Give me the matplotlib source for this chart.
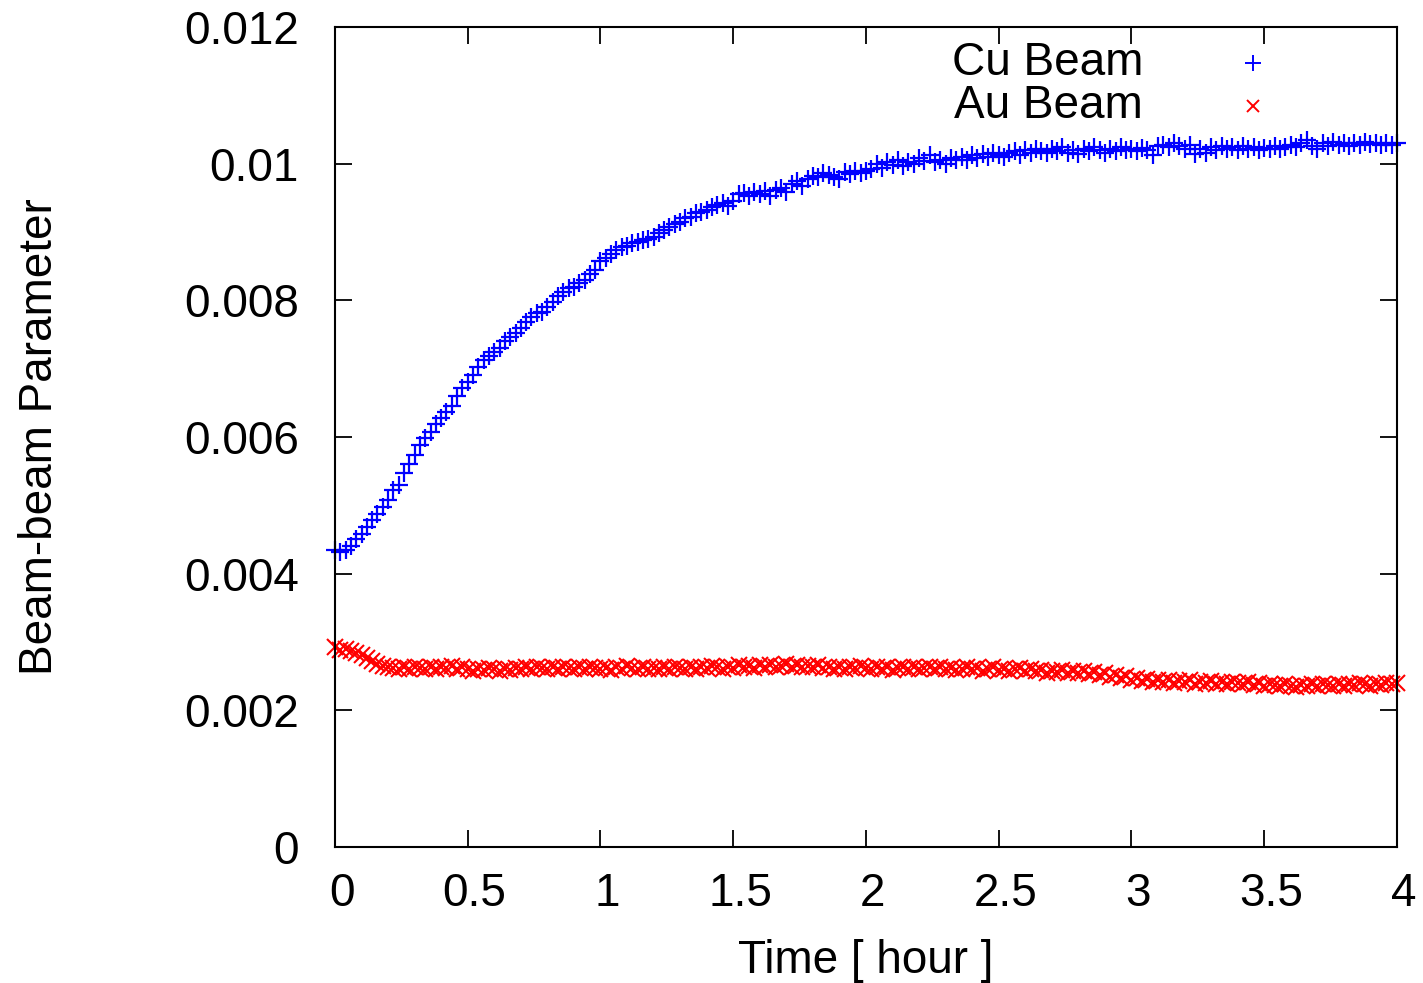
import matplotlib.pyplot as plt
from matplotlib.transforms import ScaledTranslation

plt.rcParams['font.family'] = ['Liberation Sans', 'DejaVu Sans']
font_size = 33

# data (one point every 0.02 hour)
time_hours = [
    0.00, 0.02, 0.04, 0.06, 0.08, 0.10, 0.12, 0.14, 0.16, 0.18,
    0.20, 0.22, 0.24, 0.26, 0.28, 0.30, 0.32, 0.34, 0.36, 0.38,
    0.40, 0.42, 0.44, 0.46, 0.48, 0.50, 0.52, 0.54, 0.56, 0.58,
    0.60, 0.62, 0.64, 0.66, 0.68, 0.70, 0.72, 0.74, 0.76, 0.78,
    0.80, 0.82, 0.84, 0.86, 0.88, 0.90, 0.92, 0.94, 0.96, 0.98,
    1.00, 1.02, 1.04, 1.06, 1.08, 1.10, 1.12, 1.14, 1.16, 1.18,
    1.20, 1.22, 1.24, 1.26, 1.28, 1.30, 1.32, 1.34, 1.36, 1.38,
    1.40, 1.42, 1.44, 1.46, 1.48, 1.50, 1.52, 1.54, 1.56, 1.58,
    1.60, 1.62, 1.64, 1.66, 1.68, 1.70, 1.72, 1.74, 1.76, 1.78,
    1.80, 1.82, 1.84, 1.86, 1.88, 1.90, 1.92, 1.94, 1.96, 1.98,
    2.00, 2.02, 2.04, 2.06, 2.08, 2.10, 2.12, 2.14, 2.16, 2.18,
    2.20, 2.22, 2.24, 2.26, 2.28, 2.30, 2.32, 2.34, 2.36, 2.38,
    2.40, 2.42, 2.44, 2.46, 2.48, 2.50, 2.52, 2.54, 2.56, 2.58,
    2.60, 2.62, 2.64, 2.66, 2.68, 2.70, 2.72, 2.74, 2.76, 2.78,
    2.80, 2.82, 2.84, 2.86, 2.88, 2.90, 2.92, 2.94, 2.96, 2.98,
    3.00, 3.02, 3.04, 3.06, 3.08, 3.10, 3.12, 3.14, 3.16, 3.18,
    3.20, 3.22, 3.24, 3.26, 3.28, 3.30, 3.32, 3.34, 3.36, 3.38,
    3.40, 3.42, 3.44, 3.46, 3.48, 3.50, 3.52, 3.54, 3.56, 3.58,
    3.60, 3.62, 3.64, 3.66, 3.68, 3.70, 3.72, 3.74, 3.76, 3.78,
    3.80, 3.82, 3.84, 3.86, 3.88, 3.90, 3.92, 3.94, 3.96, 3.98,
    4.00,
]

cu_beam = [
    0.00435, 0.00432, 0.00434, 0.00441, 0.00450, 0.00458, 0.00468, 0.00479, 0.00488, 0.00497,
    0.00508, 0.00522, 0.00530, 0.00547, 0.00560, 0.00573, 0.00588, 0.00598, 0.00608, 0.00619,
    0.00628, 0.00637, 0.00645, 0.00660, 0.00672, 0.00680, 0.00691, 0.00702, 0.00712, 0.00718,
    0.00724, 0.00730, 0.00740, 0.00747, 0.00752, 0.00760, 0.00768, 0.00776, 0.00781, 0.00783,
    0.00790, 0.00798, 0.00806, 0.00812, 0.00818, 0.00820, 0.00826, 0.00830, 0.00838, 0.00845,
    0.00857, 0.00862, 0.00868, 0.00874, 0.00878, 0.00880, 0.00884, 0.00886, 0.00888, 0.00890,
    0.00893, 0.00898, 0.00903, 0.00907, 0.00912, 0.00915, 0.00920, 0.00922, 0.00928, 0.00930,
    0.00932, 0.00936, 0.00940, 0.00942, 0.00938, 0.00946, 0.00955, 0.00957, 0.00953, 0.00958,
    0.00956, 0.00960, 0.00952, 0.00962, 0.00965, 0.00958, 0.00970, 0.00974, 0.00968, 0.00978,
    0.00982, 0.00980, 0.00986, 0.00984, 0.00980, 0.00978, 0.00988, 0.00985, 0.00990, 0.00986,
    0.00990, 0.00992, 0.01000, 0.00994, 0.01002, 0.00998, 0.01005, 0.00996, 0.01003, 0.01000,
    0.01008, 0.01004, 0.01012, 0.01002, 0.01006, 0.01000, 0.01008, 0.01005, 0.01010, 0.01006,
    0.01012, 0.01008, 0.01014, 0.01010, 0.01016, 0.01012, 0.01010, 0.01016, 0.01018, 0.01012,
    0.01020, 0.01016, 0.01022, 0.01018, 0.01015, 0.01022, 0.01018, 0.01024, 0.01016, 0.01020,
    0.01014, 0.01022, 0.01018, 0.01024, 0.01020, 0.01016, 0.01022, 0.01018, 0.01024, 0.01020,
    0.01022, 0.01018, 0.01023, 0.01020, 0.01012, 0.01026, 0.01028, 0.01024, 0.01030, 0.01026,
    0.01022, 0.01028, 0.01014, 0.01022, 0.01016, 0.01024, 0.01020, 0.01026, 0.01022, 0.01024,
    0.01020, 0.01026, 0.01022, 0.01024, 0.01020, 0.01023, 0.01021, 0.01026, 0.01022, 0.01025,
    0.01028, 0.01024, 0.01030, 0.01034, 0.01026, 0.01022, 0.01030, 0.01026, 0.01032, 0.01028,
    0.01030, 0.01026, 0.01031, 0.01028, 0.01032, 0.01029, 0.01031, 0.01027, 0.01030, 0.01028,
    0.01030,
]

au_beam = [
    0.00293, 0.00288, 0.00290, 0.00287, 0.00284, 0.00281, 0.00276, 0.00272, 0.00268, 0.00265,
    0.00263, 0.00262, 0.00260, 0.00263, 0.00261, 0.00264, 0.00262, 0.00260, 0.00263, 0.00261,
    0.00264, 0.00262, 0.00265, 0.00261, 0.00263, 0.00260, 0.00258, 0.00261, 0.00259, 0.00262,
    0.00260, 0.00258, 0.00261, 0.00259, 0.00262, 0.00260, 0.00263, 0.00261, 0.00264, 0.00262,
    0.00260, 0.00263, 0.00261, 0.00264, 0.00262, 0.00260, 0.00263, 0.00261, 0.00264, 0.00262,
    0.00260, 0.00262, 0.00259, 0.00263, 0.00261, 0.00265, 0.00262, 0.00260, 0.00263, 0.00261,
    0.00262, 0.00260, 0.00263, 0.00261, 0.00264, 0.00262, 0.00260, 0.00263, 0.00261, 0.00264,
    0.00262, 0.00265, 0.00263, 0.00261, 0.00264, 0.00262, 0.00266, 0.00263, 0.00265, 0.00262,
    0.00266, 0.00264, 0.00267, 0.00263, 0.00265, 0.00268, 0.00264, 0.00266, 0.00263, 0.00265,
    0.00263, 0.00266, 0.00262, 0.00264, 0.00261, 0.00263, 0.00260, 0.00264, 0.00262, 0.00265,
    0.00262, 0.00260, 0.00264, 0.00261, 0.00263, 0.00259, 0.00262, 0.00264, 0.00261, 0.00263,
    0.00260, 0.00262, 0.00264, 0.00261, 0.00263, 0.00260, 0.00262, 0.00259, 0.00261, 0.00263,
    0.00260, 0.00262, 0.00258, 0.00261, 0.00263, 0.00259, 0.00261, 0.00258, 0.00260, 0.00262,
    0.00258, 0.00260, 0.00257, 0.00259, 0.00255, 0.00258, 0.00256, 0.00259, 0.00254, 0.00257,
    0.00255, 0.00258, 0.00253, 0.00256, 0.00251, 0.00254, 0.00249, 0.00252, 0.00247, 0.00250,
    0.00245, 0.00248, 0.00243, 0.00246, 0.00242, 0.00245, 0.00241, 0.00244, 0.00240, 0.00243,
    0.00241, 0.00244, 0.00239, 0.00242, 0.00240, 0.00243, 0.00238, 0.00241, 0.00239, 0.00242,
    0.00240, 0.00238, 0.00241, 0.00237, 0.00240, 0.00236, 0.00239, 0.00237, 0.00235, 0.00238,
    0.00236, 0.00234, 0.00237, 0.00235, 0.00238, 0.00236, 0.00239, 0.00237, 0.00235, 0.00238,
    0.00236, 0.00239, 0.00237, 0.00240, 0.00238, 0.00236, 0.00239, 0.00237, 0.00240, 0.00238,
    0.00240,
]

x_ticks = [0, 0.5, 1, 1.5, 2, 2.5, 3, 3.5, 4]
x_tick_labels = ["0", "0.5", "1", "1.5", "2", "2.5", "3", "3.5", "4"]
y_ticks = [0, 0.002, 0.004, 0.006, 0.008, 0.010, 0.012]
y_tick_labels = ["0", "0.002", "0.004", "0.006", "0.008", "0.01", "0.012"]

blue = "#0000ff"
red = "#ff0000"

fig = plt.figure(figsize=(14.23, 9.83), dpi=100)
ax = fig.add_axes([0.2354, 0.1384, 0.7463, 0.8341])

ax.plot(time_hours, cu_beam, linestyle="none", marker="+", markersize=13,
        markeredgewidth=1.6, color=blue, clip_on=False)
ax.plot(time_hours, au_beam, linestyle="none", marker="x", markersize=11,
        markeredgewidth=1.5, color=red, clip_on=False)

ax.set_xlim(0, 4)
ax.set_ylim(0, 0.012)
ax.set_xticks(x_ticks)
ax.set_xticklabels(x_tick_labels)
ax.set_yticks(y_ticks)
ax.set_yticklabels(y_tick_labels)

ax.tick_params(direction="in", length=12, width=1.3, top=True, right=True,
               labelsize=font_size)
ax.tick_params(axis="x", pad=18)
ax.tick_params(axis="y", pad=26)
for spine in ax.spines.values():
    spine.set_linewidth(1.5)

# gnuplot puts the x labels a little right of the ticks
shift = ScaledTranslation(5 / 72, 0, fig.dpi_scale_trans)
for label in ax.get_xticklabels():
    label.set_transform(label.get_transform() + shift)

ax.set_xlabel("Time [ hour ]", fontsize=font_size)
ax.set_ylabel("Beam-beam Parameter", fontsize=font_size)
ax.xaxis.set_label_coords(0.5, -0.112)
ax.yaxis.set_label_coords(-0.257, 0.5)

# gnuplot style key: text right aligned, marker on the right
ax.text(0.761, 0.956, "Cu Beam", transform=ax.transAxes, ha="right",
        va="center", fontsize=font_size)
ax.text(0.761, 0.904, "Au Beam", transform=ax.transAxes, ha="right",
        va="center", fontsize=font_size)
ax.plot([0.864], [0.956], transform=ax.transAxes, marker="+", markersize=11,
        markeredgewidth=1.4, color=blue, linestyle="none")
ax.plot([0.864], [0.904], transform=ax.transAxes, marker="x", markersize=9,
        markeredgewidth=1.4, color=red, linestyle="none")

fig.savefig("out.png", dpi=100)
